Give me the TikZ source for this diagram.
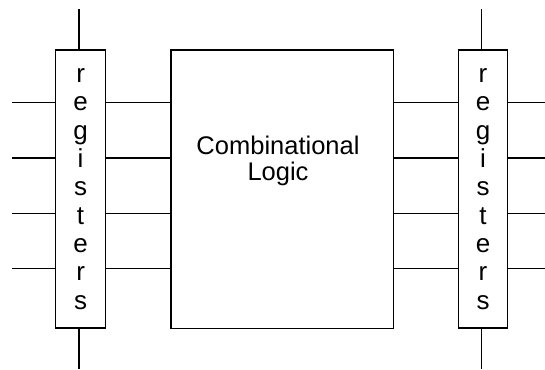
\documentclass[tikz,border=0pt]{standalone}
\usepackage{fontspec}
\setmainfont{Liberation Sans}
\begin{document}
\begin{tikzpicture}[x=1pt,y=-1pt,line width=1.2pt,
  regbox/.style={draw,rectangle,minimum width=49.5pt,minimum height=278pt,inner sep=0pt,
    align=center,font=\fontsize{26}{28.35}\selectfont},
  logicbox/.style={draw,rectangle,minimum width=222.7pt,minimum height=278.7pt,inner sep=0pt},
  caption/.style={align=center,font=\fontsize{25.5}{26}\selectfont},
  wire/.style={draw}]
\useasboundingbox (0,0) rectangle (545,369);

% register banks and the logic block
\node[regbox] (regL) at (80.6,189) {r\\e\\g\\i\\s\\t\\e\\r\\s};
\node[regbox] (regR) at (483,189) {r\\e\\g\\i\\s\\t\\e\\r\\s};
\node[logicbox] (logic) at (282.3,189.3) {};
\node[caption] (cap) at (278,161) {Combinational\\Logic};

% clock stubs above and below each register bank
\coordinate (tL) at (79,9.5);
\coordinate (bL) at (79,369);
\coordinate (tR) at (481.7,9.5);
\coordinate (bR) at (481.7,369);
\draw[wire] (tL) -- (tL |- regL.north);
\draw[wire] (bL) -- (bL |- regL.south);
\draw[wire] (tR) -- (tR |- regR.north);
\draw[wire] (bR) -- (bR |- regR.south);

% data lines
\foreach \i/\y in {1/102.7,2/158,3/213.3,4/268.7}{
  \coordinate (inL\i) at (12,\y);
  \coordinate (outR\i) at (545,\y);
  \draw[wire] (inL\i) -- (inL\i -| regL.west);
  \draw[wire] (inL\i -| regL.east) -- (inL\i -| logic.west);
  \draw[wire] (inL\i -| logic.east) -- (inL\i -| regR.west);
  \draw[wire] (outR\i -| regR.east) -- (outR\i);
}
\end{tikzpicture}
\end{document}
